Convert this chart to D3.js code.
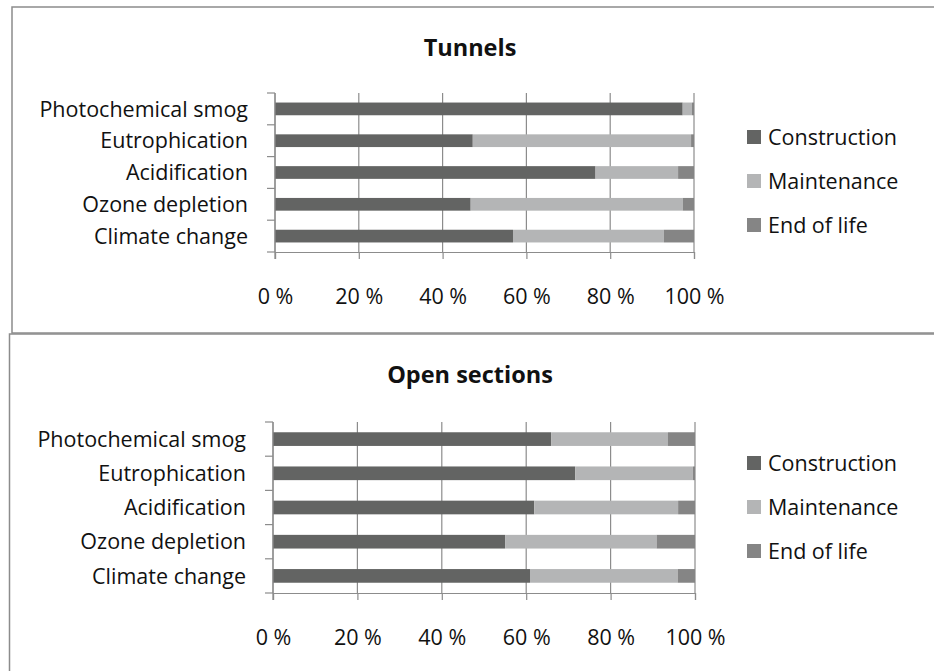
<!DOCTYPE html>
<html>
<head>
<meta charset="utf-8">
<script src="https://cdn.jsdelivr.net/npm/d3@7"></script>
<style>
  html, body { margin: 0; padding: 0; background: #fff; }
  svg { display: block; }
  text { font-family: "Open Sans", "Noto Sans", sans-serif; fill: #111; }
</style>
</head>
<body>
<svg id="chart" width="934" height="671"></svg>
<script>
// Impact categories, listed bottom-to-top as they sit on the axis
const categories = ["Climate change", "Ozone depletion", "Acidification", "Eutrophication", "Photochemical smog"];
const seriesNames = ["Construction", "Maintenance", "End of life"];

// Tunnels: share of each life-cycle phase (%)
const tunnelsConstruction = [56.8, 46.7, 76.5, 47.2, 97.3];
const tunnelsMaintenance  = [36.0, 50.6, 19.7, 52.1, 2.2];
const tunnelsEndOfLife    = [7.2, 2.7, 3.8, 0.7, 0.5];

// Open sections: share of each life-cycle phase (%)
const openConstruction = [60.9, 55.0, 61.9, 71.6, 65.9];
const openMaintenance  = [35.0, 35.9, 34.1, 27.9, 27.7];
const openEndOfLife    = [4.1, 9.1, 4.0, 0.5, 6.4];

const tickValues = [0, 0.2, 0.4, 0.6, 0.8, 1];
const tickLabels = ["0 %", "20 %", "40 %", "60 %", "80 %", "100 %"];

const colors = d3.scaleOrdinal().domain(seriesNames).range(["#636463", "#b4b5b6", "#858585"]);

function rows(construction, maintenance, endOfLife) {
  return categories.map((c, i) => ({
    category: c,
    "Construction": construction[i],
    "Maintenance": maintenance[i],
    "End of life": endOfLife[i]
  }));
}

const panels = [
  {
    title: "Tunnels",
    data: rows(tunnelsConstruction, tunnelsMaintenance, tunnelsEndOfLife),
    frame: { x: 12, y: 7, w: 940, h: 326 },
    plot: { x0: 275, x1: 694, y0: 93, y1: 252 },
    titleY: 56,
    legendY: 137
  },
  {
    title: "Open sections",
    data: rows(openConstruction, openMaintenance, openEndOfLife),
    frame: { x: 9.5, y: 334, w: 940, h: 360 },
    plot: { x0: 273, x1: 695, y0: 422, y1: 593 },
    titleY: 383,
    legendY: 463
  }
];

const svg = d3.select("#chart");
const stack = d3.stack().keys(seriesNames).offset(d3.stackOffsetExpand);

panels.forEach(p => {
  const g = svg.append("g");

  g.append("rect")
    .attr("x", p.frame.x).attr("y", p.frame.y)
    .attr("width", p.frame.w).attr("height", p.frame.h)
    .attr("fill", "#fff").attr("stroke", "#8c8c8c").attr("stroke-width", 1.5);

  g.append("text")
    .attr("x", 470).attr("y", p.titleY)
    .attr("text-anchor", "middle")
    .style("font-weight", "bold").style("font-size", "23.5px")
    .text(p.title);

  const x = d3.scaleLinear().domain([0, 1]).range([p.plot.x0, p.plot.x1]);
  const y = d3.scaleBand().domain(categories).range([p.plot.y1, p.plot.y0]).paddingInner(0.6).paddingOuter(0.3);
  const yBands = d3.scaleBand().domain(categories).range([p.plot.y1, p.plot.y0]);

  // vertical gridlines
  g.append("g").selectAll("line").data(tickValues).join("line")
    .attr("x1", d => x(d)).attr("x2", d => x(d))
    .attr("y1", p.plot.y0).attr("y2", p.plot.y1)
    .attr("stroke", "#8c8c8c").attr("stroke-width", 1.2);

  // stacked bars
  const series = stack(p.data);
  g.append("g").selectAll("g").data(series).join("g")
    .attr("fill", s => colors(s.key))
    .selectAll("rect").data(s => s).join("rect")
      .attr("x", d => x(d[0]))
      .attr("width", d => x(d[1]) - x(d[0]))
      .attr("y", d => y(d.data.category))
      .attr("height", y.bandwidth());

  // category axis
  const yAxis = g.append("g").attr("transform", `translate(${p.plot.x0},0)`)
    .call(d3.axisLeft(yBands).tickSize(0).tickPadding(27));
  yAxis.select(".domain").remove();
  yAxis.selectAll("text").style("font-size", "21.5px").attr("fill", "#111").attr("dy", "0.36em");
  const bandEdges = categories.map(c => yBands(c)).concat([p.plot.y1]);
  g.append("g").selectAll("line").data(bandEdges).join("line")
    .attr("x1", p.plot.x0 - 8).attr("x2", p.plot.x0)
    .attr("y1", d => d).attr("y2", d => d)
    .attr("stroke", "#8c8c8c").attr("stroke-width", 1.2);
  g.append("line")
    .attr("x1", p.plot.x0).attr("x2", p.plot.x0)
    .attr("y1", p.plot.y0).attr("y2", p.plot.y1 + 7)
    .attr("stroke", "#8c8c8c").attr("stroke-width", 1.2);

  // value axis
  const xAxis = g.append("g").attr("transform", `translate(0,${p.plot.y1})`)
    .call(d3.axisBottom(x).tickValues(tickValues).tickSize(7).tickPadding(30)
      .tickFormat((d, i) => tickLabels[i]));
  xAxis.select(".domain").attr("stroke", "#8c8c8c").attr("stroke-width", 1.2);
  xAxis.selectAll(".tick line").attr("stroke", "#8c8c8c").attr("stroke-width", 1.2);
  xAxis.selectAll("text").style("font-size", "21.5px").attr("fill", "#111");

  // legend
  const legend = g.append("g").selectAll("g").data(seriesNames).join("g")
    .attr("transform", (d, i) => `translate(747,${p.legendY + i * 44})`);
  legend.append("rect")
    .attr("x", 0).attr("y", -7).attr("width", 14).attr("height", 14)
    .attr("fill", d => colors(d));
  legend.append("text")
    .attr("x", 21).attr("y", 0).attr("dy", "0.36em")
    .style("font-size", "21.5px")
    .text(d => d);
});
</script>
</body>
</html>
